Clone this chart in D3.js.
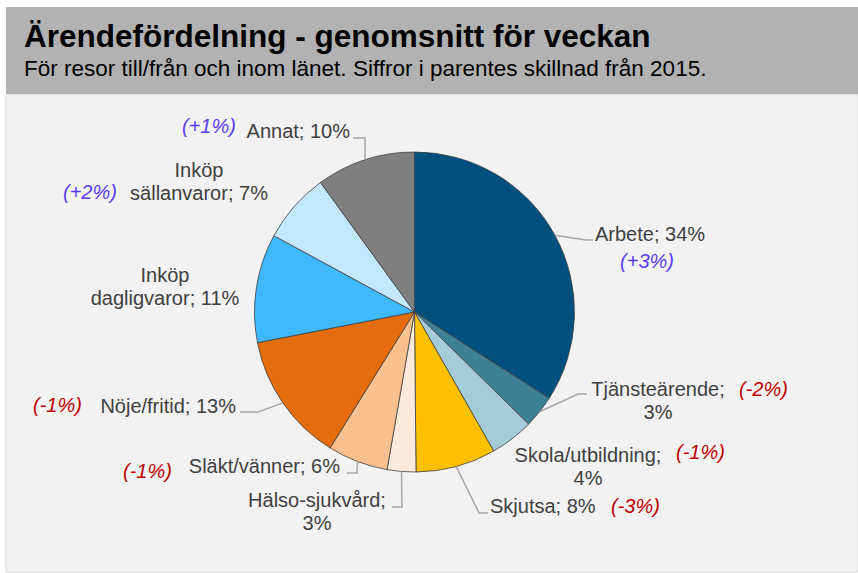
<!DOCTYPE html>
<html>
<head>
<meta charset="utf-8">
<script src="https://cdn.jsdelivr.net/npm/d3@7"></script>
<style>
  body { margin: 0; background: #ffffff; }
  svg { display: block; font-family: Arial, "Liberation Sans", sans-serif; }
</style>
</head>
<body>
<div id="chart"></div>
<script>
// Ärendefördelning - andel per ärende, klockvis från kl 12
const categories = ["Arbete", "Tjänsteärende", "Skola/utbildning", "Skjutsa", "Hälso-sjukvård",
  "Släkt/vänner", "Nöje/fritid", "Inköp dagligvaror", "Inköp sällanvaror", "Annat"];
const shares = [34.1, 3.3, 4.4, 8.1, 2.9, 6.1, 13.1, 11.0, 7.1, 10.0];
const shownPct = [34, 3, 4, 8, 3, 6, 13, 11, 7, 10];
const change2015 = [3, -2, -1, -3, null, -1, -1, null, 2, 1];
const colors = ["#00507f", "#3e8096", "#a4cbd8", "#ffc000", "#fdeada",
  "#f9c18f", "#e46c0a", "#3fb8fd", "#c3e7fc", "#7f7f7f"];

// label layout: anchor, x, y (baseline of first line), wrap mode, leader end + elbow, change label pos
const layout = {
  "Arbete":            { x: 595, y: 241, anchor: "start", wrap: "none", leader: [[586, 240], [593, 240]], chg: [647, 268, "middle"] },
  "Tjänsteärende":     { x: 658, y: 396, anchor: "middle", wrap: "pct", leader: [[578, 394], [587, 394]], chg: [739, 396, "start"] },
  "Skola/utbildning":  { x: 588, y: 462, anchor: "middle", wrap: "pct", leader: null, chg: [676, 459, "start"] },
  "Skjutsa":           { x: 490, y: 513, anchor: "start", wrap: "none", leader: [[479, 513], [488, 513]], chg: [611, 513, "start"] },
  "Hälso-sjukvård":    { x: 317, y: 507, anchor: "middle", wrap: "pct", leader: [[402, 507], [392, 507]], chg: null },
  "Släkt/vänner":      { x: 340, y: 473, anchor: "end", wrap: "none", leader: [[357, 473], [347, 473]], chg: [123, 478, "start"] },
  "Nöje/fritid":       { x: 236, y: 413, anchor: "end", wrap: "none", leader: [[258, 412], [240, 412]], chg: [33, 412, "start"] },
  "Inköp dagligvaror": { x: 165, y: 282, anchor: "middle", wrap: "name", leader: null, chg: null },
  "Inköp sällanvaror": { x: 199, y: 177, anchor: "middle", wrap: "name", leader: null, chg: [63, 199, "start"] },
  "Annat":             { x: 350, y: 138, anchor: "end", wrap: "none", leader: "up", chg: [182, 133, "start"] }
};

const width = 858;
const height = 573;
const cx = 414.5, cy = 312, radius = 160;

const svg = d3.select("#chart").append("svg")
  .attr("width", width)
  .attr("height", height);

// header + panel
svg.append("rect").attr("x", 6).attr("y", 94).attr("width", width - 6).attr("height", 478)
  .attr("fill", "#f2f2f2").attr("stroke", "#d9d9d9");
svg.append("rect").attr("x", 6).attr("y", 7).attr("width", width - 6).attr("height", 87)
  .attr("fill", "#b2b2b2");

svg.append("text").attr("x", 24).attr("y", 47)
  .style("font-size", "31.5px").style("font-weight", "bold").attr("fill", "#000")
  .text("Ärendefördelning - genomsnitt för veckan");
svg.append("text").attr("x", 24).attr("y", 76)
  .style("font-size", "22.5px").attr("fill", "#000")
  .text("För resor till/från och inom länet. Siffror i parentes skillnad från 2015.");

const data = categories.map((c, i) => ({ cat: c, value: shares[i], pct: shownPct[i], chg: change2015[i], color: colors[i] }));

const pie = d3.pie().sort(null).value(d => d.value);
const arcs = pie(data);
const arc = d3.arc().innerRadius(0).outerRadius(radius);
const edge = d3.arc().innerRadius(radius).outerRadius(radius);

const g = svg.append("g").attr("transform", `translate(${cx},${cy})`);

g.selectAll(".slice")
  .data(arcs)
  .enter().append("path")
  .attr("class", "slice")
  .attr("d", arc)
  .attr("fill", d => d.data.color)
  .attr("stroke", "#404040")
  .attr("stroke-width", 0.8);

// leader lines
arcs.forEach(a => {
  const L = layout[a.data.cat];
  if (!L.leader) return;
  const p = edge.centroid(a);
  const p0 = [p[0] + cx, p[1] + cy];
  let pts;
  if (L.leader === "up") {
    pts = [p0, [p0[0], L.y], [L.x + 3, L.y]];
  } else {
    pts = [p0].concat(L.leader);
  }
  svg.append("path")
    .attr("d", d3.line()(pts))
    .attr("fill", "none")
    .attr("stroke", "#a6a6a6")
    .attr("stroke-width", 1.5);
});

// labels
arcs.forEach(a => {
  const d = a.data;
  const L = layout[d.cat];
  let lines;
  if (L.wrap === "name") {
    const k = d.cat.indexOf(" ");
    lines = [d.cat.slice(0, k), `${d.cat.slice(k + 1)}; ${d.pct}%`];
  } else if (L.wrap === "pct") {
    lines = [`${d.cat};`, `${d.pct}%`];
  } else {
    lines = [`${d.cat}; ${d.pct}%`];
  }
  const t = svg.append("text")
    .attr("x", L.x).attr("y", L.y)
    .attr("text-anchor", L.anchor)
    .style("font-size", "20px")
    .attr("fill", "#404040");
  lines.forEach((s, i) => {
    t.append("tspan").attr("x", L.x).attr("dy", i === 0 ? 0 : 22.5).text(s);
  });

  if (d.chg !== null && L.chg) {
    svg.append("text")
      .attr("x", L.chg[0]).attr("y", L.chg[1])
      .attr("text-anchor", L.chg[2])
      .style("font-size", "20px")
      .style("font-style", "italic")
      .attr("fill", d.chg > 0 ? "#5b3cf2" : "#c00000")
      .text(`(${d.chg > 0 ? "+" : ""}${d.chg}%)`);
  }
});
</script>
</body>
</html>
